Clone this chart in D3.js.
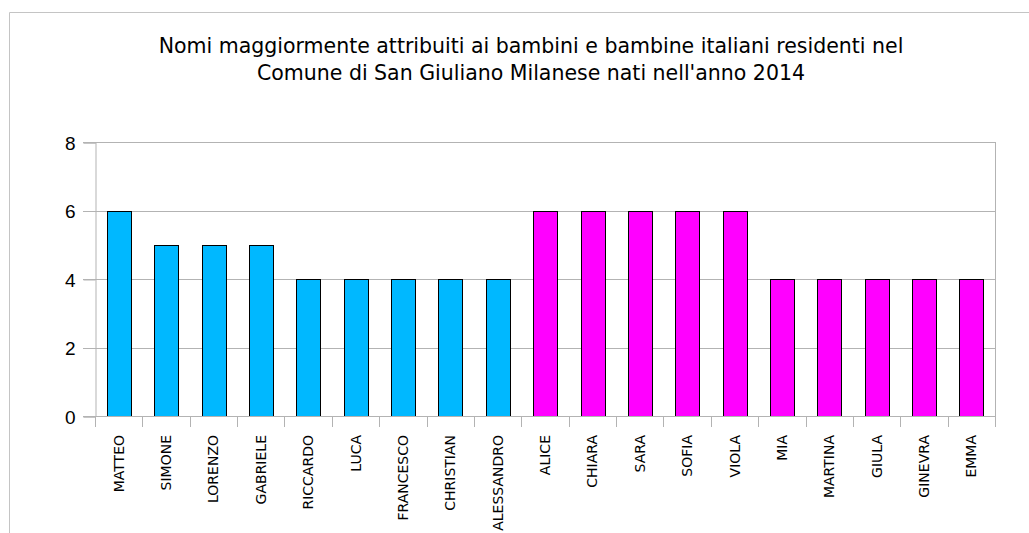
<!DOCTYPE html>
<html>
    <head>
        <meta charset="utf-8">
        <title>Nomi 2014</title>
        <style>
            html, body {
                margin: 0px;
                padding: 0px;
                background-color: #fff;
            }

            svg {
                display: block;
                font-family: "DejaVu Sans", sans-serif;
            }

            .grid line {
                stroke: #b3b3b3;
            }

            .frame {
                stroke: #c4c4c4;
                fill: none;
            }

            .title {
                font-size: 20.5px;
                fill: #000;
            }

            .yAxis text {
                font-size: 19px;
                fill: #000;
            }

            .xAxis text {
                font-size: 14px;
                fill: #000;
            }

            .yAxis .domain, .xAxis .domain {
                stroke: #b3b3b3;
            }

            .yAxis line, .xAxis line {
                stroke: #b3b3b3;
            }

            .bar {
                stroke: #000;
                stroke-width: 1;
            }
        </style>
        <script src="https://cdn.jsdelivr.net/npm/d3@7"></script>
    </head>
    <body>
        <div id="main"></div>

        <script>
            // dati
            var maschi = ["MATTEO", "SIMONE", "LORENZO", "GABRIELE", "RICCARDO", "LUCA", "FRANCESCO", "CHRISTIAN", "ALESSANDRO"];
            var valoriMaschi = [6, 5, 5, 5, 4, 4, 4, 4, 4];
            var femmine = ["ALICE", "CHIARA", "SARA", "SOFIA", "VIOLA", "MIA", "MARTINA", "GIULA", "GINEVRA", "EMMA"];
            var valoriFemmine = [6, 6, 6, 6, 6, 4, 4, 4, 4, 4];
            var yTicks = [0, 2, 4, 6, 8];
            var titolo = ["Nomi maggiormente attribuiti ai bambini e bambine italiani residenti nel",
                          "Comune di San Giuliano Milanese nati nell'anno 2014"];

            var width = 1029;
            var height = 533;
            var plotLeft = 95, plotRight = 995, plotTop = 142, plotBottom = 416;
            var coloreMaschi = "#00b8ff";
            var coloreFemmine = "#ff00ff";

            function main() {
                var data = maschi.map(function(n, i) { return { nome: n, valore: valoriMaschi[i], colore: coloreMaschi }; })
                    .concat(femmine.map(function(n, i) { return { nome: n, valore: valoriFemmine[i], colore: coloreFemmine }; }));

                var svg = d3.select("#main")
                            .append("svg")
                            .attr("width", width)
                            .attr("height", height);

                // cornice esterna
                svg.append("path")
                    .attr("class", "frame")
                    .attr("d", "M9.5," + height + "V12.5H" + width);

                var x = d3.scaleBand()
                    .domain(data.map(function(d) { return d.nome; }))
                    .range([plotLeft, plotRight])
                    .paddingInner(0)
                    .paddingOuter(0);

                var y = d3.scaleLinear()
                    .domain([0, 8])
                    .range([plotBottom, plotTop]);

                svg.append("g")
                    .attr("class", "grid")
                    .selectAll("line")
                    .data(yTicks)
                    .enter()
                    .append("line")
                    .attr("x1", plotLeft - 12)
                    .attr("x2", plotRight)
                    .attr("y1", function(d) { return Math.round(y(d)) + 0.5; })
                    .attr("y2", function(d) { return Math.round(y(d)) + 0.5; });

                svg.append("line")
                    .style("stroke", "#b3b3b3")
                    .attr("x1", plotRight + 0.5).attr("x2", plotRight + 0.5)
                    .attr("y1", plotTop).attr("y2", plotBottom + 11);

                var yAxis = svg.append("g")
                    .attr("class", "yAxis")
                    .attr("transform", "translate(" + (plotLeft + 0.5) + ",0.5)")
                    .call(d3.axisLeft(y).tickValues(yTicks).tickSize(12).tickPadding(8).tickFormat(d3.format("d")));
                yAxis.selectAll("text").attr("dy", "0.36em");

                // tacche dell'asse x ai bordi delle categorie
                svg.append("g")
                    .attr("class", "xAxis")
                    .selectAll("line")
                    .data(d3.range(data.length + 1))
                    .enter()
                    .append("line")
                    .attr("x1", function(i) { return Math.round(plotLeft + i * x.step()) + 0.5; })
                    .attr("x2", function(i) { return Math.round(plotLeft + i * x.step()) + 0.5; })
                    .attr("y1", plotBottom)
                    .attr("y2", plotBottom + 11);

                svg.append("g")
                    .selectAll("rect")
                    .data(data)
                    .enter()
                    .append("rect")
                    .attr("class", "bar")
                    .attr("x", function(d) { return Math.round(x(d.nome) + x.bandwidth() * 0.25) + 0.5; })
                    .attr("width", Math.round(x.bandwidth() * 0.5))
                    .attr("y", function(d) { return Math.round(y(d.valore)) + 0.5; })
                    .attr("height", function(d) { return Math.round(y(0)) - Math.round(y(d.valore)); })
                    .style("fill", function(d) { return d.colore; });

                svg.append("line")
                    .style("stroke", "#b3b3b3")
                    .attr("x1", plotLeft - 12).attr("x2", plotRight)
                    .attr("y1", Math.round(y(0)) + 0.5).attr("y2", Math.round(y(0)) + 0.5);

                svg.append("g")
                    .attr("class", "xAxis")
                    .selectAll("text")
                    .data(data)
                    .enter()
                    .append("text")
                    .attr("transform", function(d) { return "translate(" + (x(d.nome) + x.bandwidth() / 2) + "," + 435 + ") rotate(-90)"; })
                    .attr("dy", "0.36em")
                    .style("text-anchor", "end")
                    .text(function(d) { return d.nome; });

                svg.append("text")
                    .attr("class", "title")
                    .selectAll("tspan")
                    .data(titolo)
                    .enter()
                    .append("tspan")
                    .attr("x", 531)
                    .attr("y", function(d, i) { return 53 + i * 27; })
                    .style("text-anchor", "middle")
                    .text(function(d) { return d; });
            }

            main();
        </script>
    </body>
</html>
